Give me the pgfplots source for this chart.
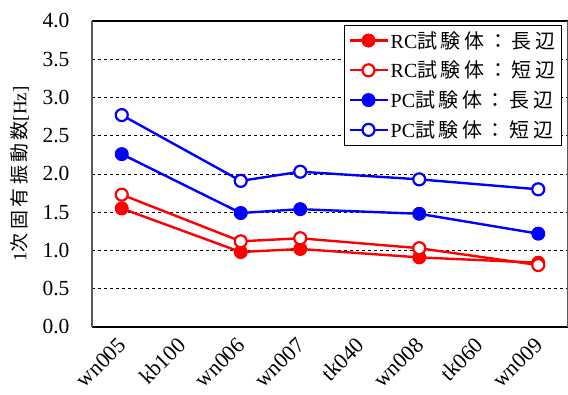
\documentclass[border=0pt]{standalone}
\usepackage{fontspec}
\setmainfont{Liberation Serif}
\newfontfamily\cjk[LetterSpace=18]{Noto Sans CJK JP}
\usepackage{pgfplots}
\pgfplotsset{compat=1.18}

\definecolor{rc}{RGB}{255,0,0}
\definecolor{pc}{RGB}{0,0,255}

% natural frequencies per building: 0=wn005,1=kb100,2=wn006,3=wn007,4=tk040,5=wn008,6=tk060,7=wn009
\begin{document}
\begin{tikzpicture}
\useasboundingbox (-92pt,-67pt) rectangle (476pt,327pt);
\begin{axis}[
  at={(0,0)}, anchor=south west,
  scale only axis,
  width=476pt, height=306pt,
  xmin=-0.5, xmax=7.5,
  ymin=0, ymax=4,
  ytick={0,0.5,1,1.5,2,2.5,3,3.5,4},
  yticklabels={0.0,0.5,1.0,1.5,2.0,2.5,3.0,3.5,4.0},
  xtick={0,...,7},
  xticklabels={wn005,kb100,wn006,wn007,tk040,wn008,tk060,wn009},
  extra x ticks={0.5,1.5,...,6.5},
  extra x tick labels={},
  extra x tick style={grid=none, major tick length=6pt, tick style={line width=1.5pt, black}},
  x tick style={draw=none},
  xtick pos=bottom,
  ytick pos=left,
  major y tick style={draw=none},
  ymajorgrids,
  grid style={dashed, black, line width=0.8pt},
  separate axis lines,
  every outer x axis line/.append style={line width=2.6pt, black},
  every outer y axis line/.append style={line width=1.6pt, black!65},
  every y tick label/.append style={font=\fontsize{21.5}{21.5}\selectfont, anchor=east, xshift=-19pt},
  every x tick label/.append style={font=\fontsize{22}{22}\selectfont, xshift=3pt, yshift=-12pt, rotate=45, anchor=east},
  ylabel={1{\cjk 次固有振動数}[Hz]},
  every axis y label/.style={at={(axis description cs:-0.152,0.5)}, rotate=90, anchor=center,
    font=\fontsize{19}{19}\selectfont},
  legend style={at={(axis description cs:0.987,0.987)}, anchor=north east,
    font=\fontsize{20}{20}\selectfont, draw=black, line width=0.8pt,
    row sep=7.5pt, inner sep=4pt},
  legend cell align=left,
  legend image code/.code={
    \draw[#1] (0pt,0pt) -- (38pt,0pt);
    \draw[#1, mark repeat=1] plot coordinates {(19pt,0pt)};
  },
]
\addplot[rc, line width=2.4pt, mark=*, mark size=6.5pt, mark options={fill=rc, line width=1pt}]
  coordinates {(0,1.55) (2,0.98) (3,1.02) (5,0.91) (7,0.84)};
\addlegendentry{RC{\cjk 試験体：長辺}}
\addplot[rc, line width=2.4pt, mark=*, mark size=6pt, mark options={fill=white, line width=2.2pt}]
  coordinates {(0,1.73) (2,1.12) (3,1.16) (5,1.03) (7,0.81)};
\addlegendentry{RC{\cjk 試験体：短辺}}
\addplot[pc, line width=2.4pt, mark=*, mark size=6.5pt, mark options={fill=pc, line width=1pt}]
  coordinates {(0,2.26) (2,1.49) (3,1.54) (5,1.48) (7,1.22)};
\addlegendentry{PC{\cjk 試験体：長辺}}
\addplot[pc, line width=2.4pt, mark=*, mark size=6pt, mark options={fill=white, line width=2.2pt}]
  coordinates {(0,2.77) (2,1.91) (3,2.03) (5,1.93) (7,1.80)};
\addlegendentry{PC{\cjk 試験体：短辺}}
\end{axis}
\end{tikzpicture}
\end{document}
